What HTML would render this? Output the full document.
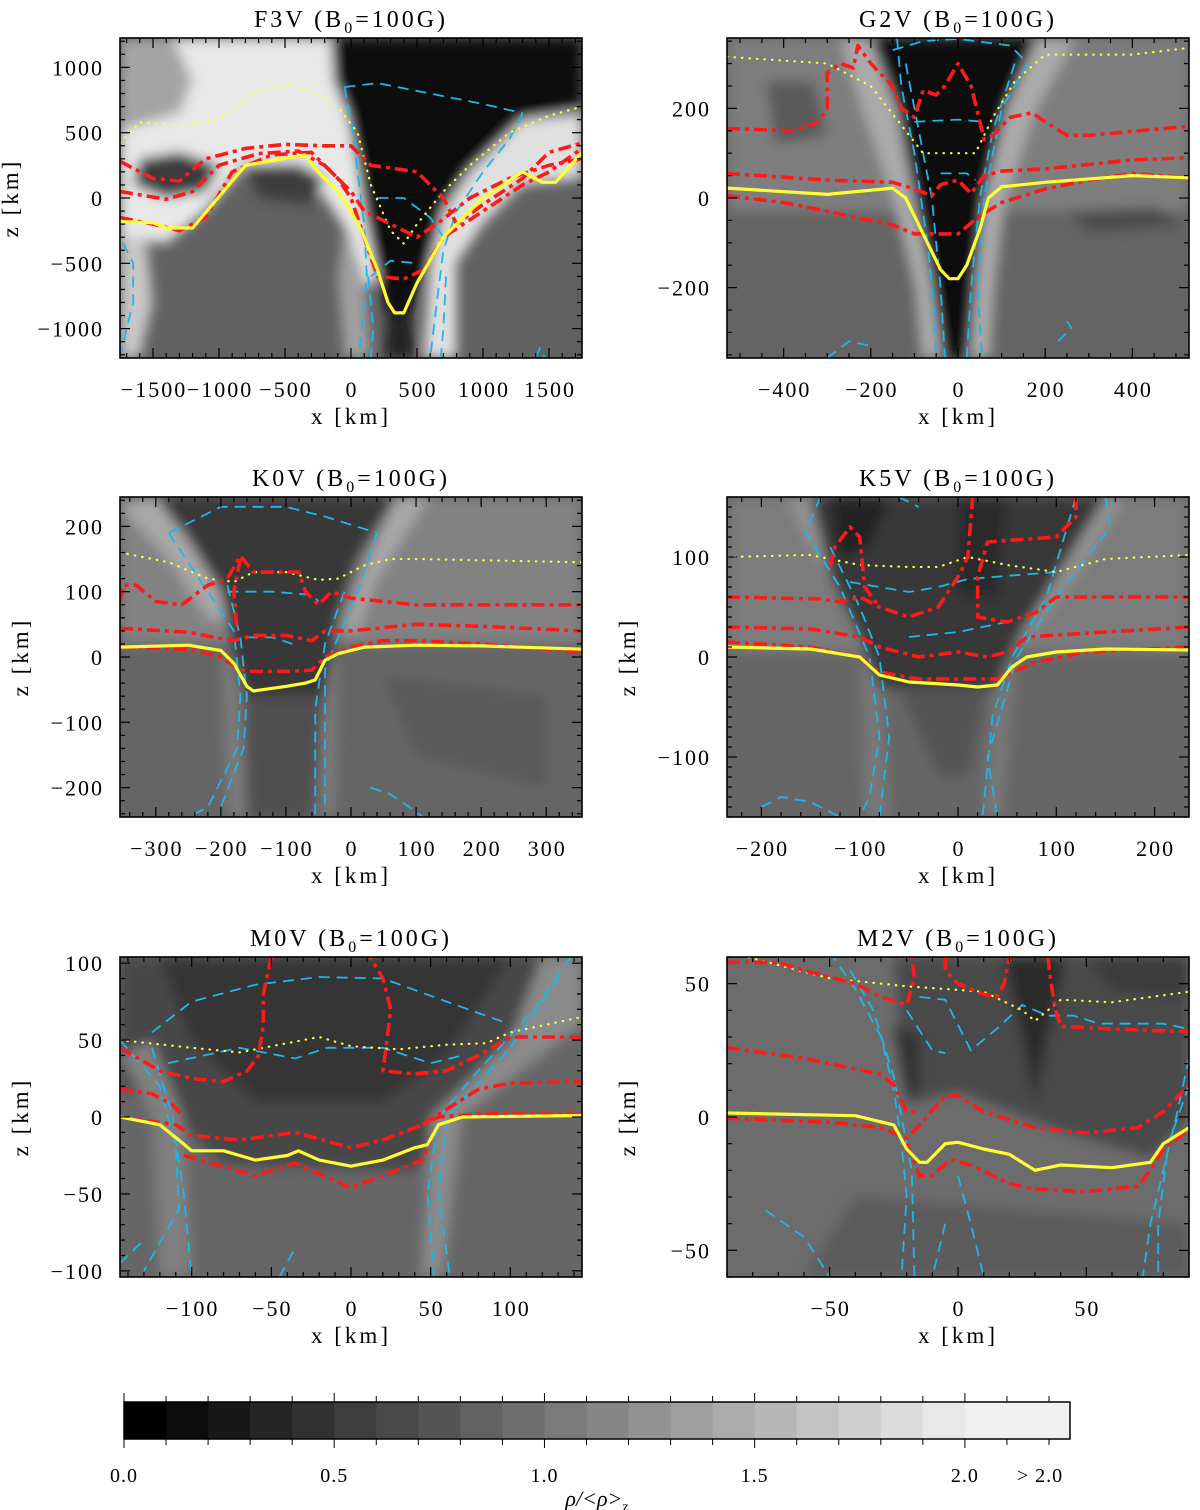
<!DOCTYPE html>
<html><head><meta charset="utf-8">
<style>
html,body{margin:0;padding:0;background:#fff;}
body{width:1200px;height:1510px;overflow:hidden;}
svg{display:block;font-family:"Liberation Serif",serif;}
</style></head>
<body>
<svg id="fig" width="1200" height="1510" viewBox="0 0 1200 1510" xmlns="http://www.w3.org/2000/svg">
<defs>
<filter id="soft" x="-20%" y="-20%" width="140%" height="140%"><feGaussianBlur stdDeviation="6"/></filter>
</defs>
</svg>
<script>
// ---------------- DATA (x [km], z [km]) ----------------
// F3V
const f3vTau=[[-1750,-180],[-1500,-190],[-1400,-230],[-1200,-230],[-1050,-50],[-800,250],[-350,330],[-250,200],[-100,50],[0,-100],[80,-250],[200,-550],[280,-800],[330,-880],[400,-880],[500,-650],[700,-300],[1000,0],[1300,200],[1450,120],[1550,120],[1750,350]];
const f3vRed1=[[-1750,280],[-1500,150],[-1300,130],[-1100,300],[-800,380],[-500,410],[-200,400],[0,400],[150,250],[300,230],[500,200],[700,0],[800,-200],[1000,-50],[1300,150],[1500,350],[1750,420]];
const f3vRed2=[[-1750,-150],[-1500,-200],[-1300,-250],[-1100,-150],[-900,200],[-600,330],[-300,350],[-100,150],[0,0],[100,-300],[200,-600],[400,-620],[550,-550],[700,-300],[1000,-100],[1300,100],[1500,200],[1750,380]];
const f3vRed3=[[-1750,50],[-1400,-10],[-1200,50],[-1000,250],[-700,340],[-400,360],[-200,250],[0,50],[100,-100],[300,-200],[500,-300],[650,-200],[900,0],[1200,150],[1500,250],[1750,300]];
const f3vDot=[[-1750,420],[-1600,580],[-1300,560],[-1000,600],[-700,820],[-500,880],[-300,820],[-100,700],[50,500],[150,100],[300,-250],[400,-350],[500,-200],[700,50],[900,250],[1200,500],[1500,630],[1750,700]];
const f3vCyan=[
 [[-1750,-1225],[-1700,-1000],[-1650,-800],[-1650,-500],[-1750,-300]],
 [[-50,850],[200,880],[600,800],[1000,720],[1300,650]],
 [[1300,650],[1200,450],[1000,200],[800,-100],[700,-400],[650,-800],[600,-1225]],
 [[-50,850],[0,600],[50,200],[100,-200],[120,-600],[80,-1000],[60,-1225]],
 [[200,0],[400,0],[600,-150],[700,-300]],
 [[150,-600],[300,-480],[500,-500]],
 [[130,-600],[170,-1000],[150,-1225]],
 [[720,-600],[700,-1000],[680,-1225]],
 [[1400,-1225],[1430,-1150],[1470,-1225]]];
// G2V
const g2vTau=[[-530,22],[-300,8],[-150,22],[-120,0],[-80,-80],[-40,-160],[-20,-180],[0,-180],[20,-150],[50,-70],[70,0],[100,25],[200,35],[400,50],[530,45]];
const g2vRed1=[[-530,5],[-400,-10],[-250,-40],[-150,-60],[-100,-80],[-50,-80],[0,-80],[50,-40],[100,-10],[200,20],[300,40],[400,55],[530,45]];
const g2vRed2=[[-530,55],[-300,40],[-150,35],[-100,20],[-60,5],[-40,30],[0,40],[30,10],[60,50],[100,60],[200,65],[400,85],[530,90]];
const g2vRed3=[[-530,155],[-380,150],[-320,170],[-300,200],[-300,280],[-270,300],[-240,290],[-230,340],[-200,300],[-150,250],[-130,200],[-100,180],[-80,240],[-50,230],[-30,250],[0,300],[30,250],[60,130],[80,140],[120,180],[170,190],[200,170],[250,140],[300,140],[530,160]];
const g2vDot=[[-530,315],[-300,300],[-200,250],[-120,150],[-80,100],[-40,100],[40,100],[80,180],[130,260],[200,320],[400,320],[530,335]];
const g2vCyan=[
 [[-140,357],[-130,250],[-100,100],[-70,-100],[-55,-250],[-50,-357]],
 [[-120,300],[-90,150],[-60,0],[-40,-200],[-30,-357]],
 [[160,300],[100,200],[60,0],[45,-200],[55,-357]],
 [[130,300],[80,150],[50,0],[30,-200],[20,-357]],
 [[-150,330],[-80,350],[0,355],[120,340],[160,300]],
 [[-100,170],[0,175],[60,170]],
 [[-40,55],[20,55],[40,40]],
 [[-300,-357],[-250,-320],[-200,-330]],
 [[230,-320],[260,-290],[250,-275]]];
// K0V
const k0vTau=[[-355,15],[-250,18],[-200,10],[-180,-10],[-160,-45],[-150,-52],[-100,-45],[-70,-40],[-55,-35],[-40,-5],[-20,5],[20,15],[100,18],[200,17],[355,12]];
const k0vRed1=[[-355,15],[-250,12],[-200,0],[-170,-20],[-150,-22],[-100,-22],[-60,-20],[-40,0],[0,15],[50,25],[100,25],[200,20],[355,8]];
const k0vRed2=[[-355,44],[-250,38],[-210,30],[-180,25],[-150,33],[-100,33],[-60,25],[-40,40],[0,40],[100,50],[200,47],[355,40]];
const k0vRed3=[[-355,85],[-350,110],[-330,110],[-300,85],[-260,80],[-220,110],[-190,120],[-170,155],[-150,130],[-80,130],[-70,100],[-50,80],[-30,100],[0,90],[100,80],[355,80]];
const k0vRed4=[[-170,150],[-180,100],[-175,40]];
const k0vDot=[[-355,160],[-280,145],[-220,120],[-180,115],[-150,130],[-100,130],[-50,118],[-20,120],[20,140],[60,150],[100,150],[355,145]];
const k0vCyan=[
 [[-280,190],[-200,230],[-100,230],[-40,215],[40,190]],
 [[-280,190],[-220,100],[-180,40],[-170,-60],[-175,-140],[-220,-230],[-250,-245]],
 [[-190,110],[-170,30],[-160,-60],[-165,-140],[-200,-230]],
 [[40,190],[10,100],[-20,30],[-40,-20],[-40,-120],[-40,-245]],
 [[-10,100],[-40,20],[-55,-80],[-55,-245]],
 [[-190,100],[-120,100],[-60,95],[-50,85]],
 [[-160,30],[-120,30],[-90,20]],
 [[30,-200],[60,-210],[90,-230],[110,-245]]];
// K5V
const k5vTau=[[-235,10],[-150,8],[-100,0],[-80,-18],[-50,-25],[0,-28],[20,-30],[40,-28],[55,-10],[70,0],[100,5],[150,8],[235,7]];
const k5vRed1=[[-235,15],[-150,10],[-100,0],[-80,-15],[-40,-22],[40,-22],[55,-15],[80,-5],[130,5],[235,10]];
const k5vRed2=[[-235,30],[-150,28],[-100,20],[-80,10],[-40,0],[0,5],[30,0],[50,5],[70,20],[150,25],[235,30]];
const k5vRed3=[[-235,60],[-140,58],[-120,55],[-100,60],[-80,50],[-50,40],[-20,50],[0,80],[10,100],[15,160]];
const k5vRed4=[[120,160],[120,140],[100,120],[30,115],[20,80],[20,40],[50,35],[80,45],[100,60],[110,60],[150,60],[235,60]];
const k5vRed5=[[-130,90],[-125,110],[-110,130],[-100,120],[-95,70],[-80,50]];
const k5vDot=[[-235,100],[-150,102],[-100,92],[-50,90],[-20,90],[10,100],[50,92],[100,85],[150,98],[235,102]];
const k5vCyan=[
 [[-140,160],[-155,125],[-120,70],[-90,0],[-80,-80],[-90,-140],[-100,-160]],
 [[-130,110],[-100,50],[-80,0],[-70,-80],[-80,-160]],
 [[150,160],[155,130],[100,60],[60,0],[45,-50],[30,-100],[40,-160]],
 [[120,160],[90,60],[55,0],[35,-60],[25,-160]],
 [[-110,75],[-50,65],[-20,70],[10,78],[100,85]],
 [[-50,20],[0,25],[50,35]],
 [[-60,160],[-40,150]],
 [[-200,-150],[-180,-140],[-150,-145],[-120,-160]]];
// M0V
const m0vTau=[[-145,0],[-120,-5],[-108,-15],[-100,-22],[-80,-22],[-60,-28],[-40,-25],[-33,-22],[-20,-28],[0,-32],[20,-28],[40,-20],[48,-18],[55,-5],[70,0],[145,1]];
const m0vRed1=[[-145,0],[-110,-5],[-100,-12],[-70,-15],[-35,-10],[0,-20],[20,-15],[45,-5],[55,0],[80,2],[145,2]];
const m0vRed2=[[-105,-25],[-60,-38],[-35,-30],[0,-46],[20,-38],[45,-28],[50,-15]];
const m0vRed3=[[-145,18],[-125,15],[-112,8],[-105,0]];
const m0vRed4=[[45,-5],[60,5],[80,18],[100,22],[145,23]];
const m0vRed5=[[-145,45],[-120,30],[-100,25],[-80,23],[-65,30],[-58,40],[-55,60],[-55,80],[-50,104]];
const m0vRed6=[[145,52],[100,52],[80,40],[60,30],[40,28],[20,30],[22,45],[25,70],[20,90],[12,104]];
const m0vDot=[[-145,50],[-100,45],[-70,42],[-40,48],[-20,52],[0,46],[30,44],[60,47],[85,48],[100,55],[145,65]];
const m0vCyan=[
 [[-125,55],[-100,75],[-60,86],[-20,91],[20,90],[60,75],[95,62]],
 [[-145,50],[-120,20],[-110,-20],[-108,-60],[-130,-100]],
 [[-125,45],[-112,0],[-105,-50],[-100,-104]],
 [[138,104],[115,70],[80,30],[55,0],[48,-50],[52,-104]],
 [[130,90],[100,45],[60,0],[55,-50],[62,-104]],
 [[-115,35],[-70,45],[-35,38],[-15,45],[20,45],[50,35],[70,40]],
 [[-145,-95],[-130,-80]],
 [[-45,-104],[-35,-85]]];
// M2V
const m2vTau=[[-90,1.5],[-40,0.5],[-25,-3],[-20,-12],[-15,-17],[-12,-17],[-5,-10],[0,-9.5],[10,-12],[20,-14],[30,-20],[35,-19],[40,-18],[60,-19],[75,-17],[80,-10],[90,-4]];
const m2vRed1=[[-90,-0.5],[-50,-2],[-30,-4],[-20,-8],[-15,-3],[-5,8],[0,8],[10,2],[30,-4],[50,-6],[70,-4],[80,2],[90,12]];
const m2vRed2=[[-20,-10],[-15,-22],[-10,-22],[-3,-16],[5,-18],[20,-25],[30,-27],[50,-28],[70,-26],[75,-20],[80,-12],[90,-5]];
const m2vRed3=[[-90,26],[-60,22],[-40,18],[-30,16],[-25,12],[-20,2],[-15,2]];
const m2vRed4=[[-90,58],[-70,58],[-60,55],[-40,50],[-30,45],[-20,42],[-17,52],[-18,60]];
const m2vRed5=[[-5,60],[-5,55],[0,50],[10,46],[15,45],[18,50],[20,60]];
const m2vRed6=[[35,60],[36,52],[38,40],[40,34],[60,33],[90,32]];
const m2vDot=[[-90,62],[-50,52],[-20,49],[10,47],[25,40],[30,36],[40,44],[60,43],[90,47]];
const m2vCyan=[
 [[-50,62],[-40,48],[-30,30],[-25,10],[-22,-10],[-20,-30],[-22,-60]],
 [[-42,55],[-33,40],[-25,15],[-18,-20],[-17,-60]],
 [[90,22],[85,0],[80,-20],[75,-40],[72,-60]],
 [[90,12],[82,-10],[78,-40],[78,-60]],
 [[-15,45],[-5,44],[5,25],[15,33],[25,42],[35,38],[45,38],[55,35],[80,35],[90,33]],
 [[-20,40],[-10,25],[-5,24]],
 [[-75,-35],[-60,-45],[-50,-60]],
 [[0,-22],[5,-40],[10,-60]],
 [[-5,-40],[-10,-60]]];

// Colorbar data
const cbLevels=[0.0,0.1,0.2,0.3,0.4,0.5,0.6,0.7,0.8,0.9,1.0,1.1,1.2,1.3,1.4,1.5,1.6,1.7,1.8,1.9,2.0];
const cbLabels=["0.0","0.5","1.0","1.5","2.0"];
const cbLabelValues=[0.0,0.5,1.0,1.5,2.0];

// ---------------- RENDER ----------------
const NS="http://www.w3.org/2000/svg";
const svg=document.getElementById('fig');
function mk(tag,attrs,parent){const e=document.createElementNS(NS,tag);for(const k in attrs)e.setAttribute(k,attrs[k]);(parent||svg).appendChild(e);return e;}

const panels=[
 {id:'f3v',title:'F3V',L:120,T:38,xr:[-1750,1750],zr:[-1225,1225],xMaj:500,xMin:100,zMaj:500,zMin:100,ylab:10,
  bg:'#616161',shapes:[
   ['#e8e8e8',[[-1750,1225],[-150,1225],[-100,900],[0,650],[60,300],[100,0],[150,-300],[250,-600],[80,-700],[0,-300],[-200,0],[-400,250],[-800,250],[-1100,-100],[-1400,-350],[-1750,-300]]],
   ['#a4a4a4',[[-1750,1225],[-1350,1225],[-1200,900],[-1300,650],[-1750,520]]],
   ['#3a3a3a',[[-1600,300],[-1300,350],[-1000,250],[-1100,50],[-1400,0],[-1650,100]]],
   ['#3e3e3e',[[-800,250],[-400,260],[-200,150],[-300,-50],[-700,0]]],
   ['#c8c8c8',[[-1750,-300],[-1550,-300],[-1500,-800],[-1600,-1225],[-1750,-1225]]],
   ['#a0a0a0',[[-50,-200],[100,-600],[150,-1225],[-50,-1225],[-100,-600]]],
   ['#e0e0e0',[[550,-1225],[800,-1225],[800,-500],[1000,-200],[1300,100],[1750,150],[1750,650],[1300,600],[900,200],[700,-100],[600,-500]]],
   ['#070707',[[-150,1225],[1750,1225],[1750,720],[1300,620],[900,250],[700,-50],[560,-600],[450,-900],[280,-900],[180,-500],[100,-100],[40,300],[-30,650],[-130,900]]],
   ['#222222',[[280,-900],[450,-900],[500,-1225],[250,-1225]]]],
  tau:f3vTau,reds:[f3vRed1,f3vRed2,f3vRed3],dot:f3vDot,cyan:f3vCyan},
 {id:'g2v',title:'G2V',L:727,T:38,xr:[-530,530],zr:[-357,357],xMaj:200,xMin:50,zMaj:200,zMin:50,ylab:null,
  bg:'#646464',shapes:[
   ['#7e7e7e',[[-530,357],[530,357],[530,-30],[-530,-30]]],
   ['#5a5a5a',[[-440,260],[-330,260],[-300,140],[-420,120]]],
   ['#4c4c4c',[[250,-30],[450,-20],[520,-60],[300,-75]]],
   ['#aaaaaa',[[-270,357],[270,357],[180,200],[110,0],[85,-200],[75,-357],[-85,-357],[-100,-200],[-150,0],[-220,200]]],
   ['#0a0a0a',[[-200,357],[180,357],[110,200],[60,0],[40,-180],[25,-357],[-35,-357],[-60,-180],[-100,0],[-140,200]]]],
  tau:g2vTau,reds:[g2vRed1,g2vRed2,g2vRed3],dot:g2vDot,cyan:g2vCyan},
 {id:'k0v',title:'K0V',L:120,T:497,xr:[-355,355],zr:[-245,245],xMaj:100,xMin:20,zMaj:100,zMin:20,ylab:20,
  bg:'#656565',shapes:[
   ['#828282',[[-355,245],[355,245],[355,20],[-355,20]]],
   ['#5a5a5a',[[50,-30],[300,-60],[300,-200],[100,-150]]],
   ['#a8a8a8',[[-355,230],[-300,245],[-250,180],[-200,100],[-190,50],[-220,60],[-280,150]]],
   ['#a8a8a8',[[70,245],[120,245],[40,120],[10,40],[-10,40],[20,130]]],
   ['#7c7c7c',[[-200,0],[-175,0],[-160,-245],[-190,-245]]],
   ['#7c7c7c',[[-45,0],[-20,0],[-25,-245],[-45,-245]]],
   ['#383838',[[-300,245],[70,245],[10,150],[-20,60],[-30,0],[-40,-60],[-160,-60],[-180,0],[-200,100],[-250,180]]],
   ['#505050',[[-160,-60],[-40,-60],[-60,-245],[-160,-245]]]],
  tau:k0vTau,reds:[k0vRed1,k0vRed2,k0vRed3,k0vRed4],dot:k0vDot,cyan:k0vCyan},
 {id:'k5v',title:'K5V',L:727,T:497,xr:[-235,235],zr:[-160,160],xMaj:100,xMin:20,zMaj:100,zMin:10,ylab:627,
  bg:'#666666',shapes:[
   ['#7c7c7c',[[-235,160],[235,160],[235,5],[-235,5]]],
   ['#929292',[[-175,160],[-140,160],[-120,100],[-100,50],[-120,60],[-150,110]]],
   ['#929292',[[130,160],[170,160],[120,80],[70,20],[55,30],[100,80]]],
   ['#787878',[[-100,0],[-80,0],[-70,-160],[-95,-160]]],
   ['#787878',[[40,0],[60,0],[45,-160],[25,-160]]],
   ['#383838',[[-150,160],[150,160],[100,80],[55,10],[40,-30],[-80,-30],[-100,20],[-130,80]]],
   ['#222222',[[-130,160],[-70,160],[-90,110],[-120,100]]],
   ['#2c2c2c',[[0,160],[50,160],[40,60],[0,60]]],
   ['#555555',[[-60,-30],[30,-30],[10,-120],[-20,-120]]]],
  tau:k5vTau,reds:[k5vRed1,k5vRed2,k5vRed3,k5vRed4,k5vRed5],dot:k5vDot,cyan:k5vCyan},
 {id:'m0v',title:'M0V',L:120,T:957,xr:[-145,145],zr:[-104,104],xMaj:50,xMin:10,zMaj:50,zMin:10,ylab:20,
  bg:'#666666',shapes:[
   ['#464646',[[-145,104],[145,104],[145,80],[100,40],[60,0],[40,-35],[-80,-30],[-110,0],[-145,20]]],
   ['#363636',[[-120,104],[100,104],[60,40],[20,10],[-60,10],[-100,50]]],
   ['#8a8a8a',[[120,104],[145,104],[145,60],[70,0],[58,-104],[44,-104],[50,0],[100,50]]],
   ['#808080',[[-145,40],[-125,50],[-105,0],[-100,-104],[-120,-104],[-125,0]]]],
  tau:m0vTau,reds:[m0vRed1,m0vRed2,m0vRed3,m0vRed4,m0vRed5,m0vRed6],dot:m0vDot,cyan:m0vCyan},
 {id:'m2v',title:'M2V',L:727,T:957,xr:[-90,90],zr:[-60,60],xMaj:50,xMin:10,zMaj:50,zMin:10,ylab:627,
  bg:'#6c6c6c',shapes:[
   ['#4a4a4a',[[-25,60],[90,60],[90,0],[75,-15],[40,-5],[0,10],[-20,5]]],
   ['#2a2a2a',[[18,60],[42,60],[35,30],[30,5],[25,30]]],
   ['#333333',[[-25,35],[-15,30],[-15,10],[-20,8]]],
   ['#3a3a3a',[[50,60],[90,60],[90,45],[60,48]]],
   ['#5c5c5c',[[-60,-60],[90,-60],[90,-40],[-40,-30]]]],
  tau:m2vTau,reds:[m2vRed1,m2vRed2,m2vRed3,m2vRed4,m2vRed5,m2vRed6],dot:m2vDot,cyan:m2vCyan}
];
const W=462,H=320;

function ticksArr(lo,hi,step){const a=[];const s=Math.ceil(lo/step-1e-9);for(let i=s;i*step<=hi+1e-9;i++)a.push(i*step);return a;}
function fmt(v){return v<0?'\u2212'+Math.abs(v):String(v);}

panels.forEach(p=>{
  const sx=x=>p.L+(x-p.xr[0])/(p.xr[1]-p.xr[0])*W;
  const sz=z=>p.T+(p.zr[1]-z)/(p.zr[1]-p.zr[0])*H;
  const ptsStr=arr=>arr.map(d=>sx(d[0]).toFixed(1)+','+sz(d[1]).toFixed(1)).join(' ');
  const g=mk('g',{});
  
  
  const cp=mk('clipPath',{id:'clip-'+p.id},g);
  mk('rect',{x:p.L,y:p.T,width:W,height:H},cp);
  const plot=mk('g',{'clip-path':'url(#clip-'+p.id+')'},g);
  
  
  const bgR=mk('rect',{x:p.L,y:p.T,width:W,height:H,fill:p.bg},plot);
  
  
  const sg=mk('g',{filter:'url(#soft)'},plot);
  p.shapes.forEach((s,i)=>{
    const pg=mk('polygon',{points:ptsStr(s[1]),fill:s[0]},sg);
    
    
  });
  p.cyan.forEach(c=>{
    const l=mk('polyline',{points:ptsStr(c),fill:'none',stroke:'#1fb6e8','stroke-width':1.8,'stroke-dasharray':'11,7'},plot);
    
    
  });
  const dl=mk('polyline',{points:ptsStr(p.dot),fill:'none',stroke:'#ffff40','stroke-width':2.2,'stroke-dasharray':'0.5,7','stroke-linecap':'round'},plot);
  
  
  p.reds.forEach(r=>{
    const l=mk('polyline',{points:ptsStr(r),fill:'none',stroke:'#ff1a1a','stroke-width':3.6,'stroke-dasharray':'13,5,4,5','stroke-linejoin':'round'},plot);
    
    
  });
  const tl=mk('polyline',{points:ptsStr(p.tau),fill:'none',stroke:'#ffff33','stroke-width':3.2,'stroke-linejoin':'round'},plot);
  
  
  // frame
  const fr=mk('rect',{x:p.L,y:p.T,width:W,height:H,fill:'none',stroke:'#000','stroke-width':1.6},g);
  
  
  // ticks
  const tg=mk('g',{stroke:'#000','stroke-width':1.2},g);
  
  
  ticksArr(p.xr[0],p.xr[1],p.xMin).forEach(v=>{
    const X=sx(v);const major=Math.abs(v/p.xMaj-Math.round(v/p.xMaj))<1e-6;const len=major?10:5;
    mk('line',{x1:X,y1:p.T+H,x2:X,y2:p.T+H-len},tg);mk('line',{x1:X,y1:p.T,x2:X,y2:p.T+len},tg);
  });
  ticksArr(p.zr[0],p.zr[1],p.zMin).forEach(v=>{
    const Y=sz(v);const major=Math.abs(v/p.zMaj-Math.round(v/p.zMaj))<1e-6;const len=major?10:5;
    mk('line',{x1:p.L,y1:Y,x2:p.L+len,y2:Y},tg);mk('line',{x1:p.L+W,y1:Y,x2:p.L+W-len,y2:Y},tg);
  });
  ticksArr(p.xr[0],p.xr[1],p.xMaj).forEach(v=>{
    const t=mk('text',{x:sx(v)+1,y:p.T+H+39,'text-anchor':'middle','font-size':22,'letter-spacing':2},g);t.textContent=fmt(v);
    
    
  });
  ticksArr(p.zr[0],p.zr[1],p.zMaj).forEach(v=>{
    const t=mk('text',{x:p.L-16,y:sz(v)+8,'text-anchor':'end','font-size':22,'letter-spacing':2},g);t.textContent=fmt(v);
    
    
  });
  const xt=mk('text',{x:p.L+W/2,y:p.T+H+66,'text-anchor':'middle','font-size':23,'letter-spacing':3},g);xt.textContent='x [km]';
  
  
  if(p.ylab!==null){
    const yy=p.T+H/2;
    const yt=mk('text',{x:p.ylab,y:yy,'text-anchor':'middle','font-size':23,'letter-spacing':3,transform:'rotate(-90 '+p.ylab+' '+yy+') translate(0 8)'},g);yt.textContent='z [km]';
    
    
  }
  const tt=mk('text',{x:p.L+W/2,y:p.T-11,'text-anchor':'middle','font-size':24,'letter-spacing':3},g);
  
  
  tt.setAttribute('xml:space','preserve');
  tt.innerHTML=p.title+'  (B<tspan font-size="16" dy="6">0</tspan><tspan dy="-6">=100G)</tspan>';
});

// colorbar
(function(){
  const L=124,R=1070,T=1402,B=1439,vmax=2.25;
  const cx=v=>L+v/vmax*(R-L);
  const g=mk('g',{});
  
  
  cbLevels.forEach((v,i)=>{
    const v2=i<cbLevels.length-1?cbLevels[i+1]:vmax;
    const lvl=Math.round(Math.min(240,i*12.2));
    const r=mk('rect',{x:cx(v),y:T,width:cx(v2)-cx(v)+0.5,height:B-T,fill:'rgb('+lvl+','+lvl+','+lvl+')'},g);
    
    
  });
  const f=mk('rect',{x:L,y:T,width:R-L,height:B-T,fill:'none',stroke:'#000','stroke-width':1.5},g);
  
  
  const tg=mk('g',{stroke:'#000','stroke-width':1},g);
  for(let i=0;i<=22;i++){const v=i*0.1;const X=cx(v);const major=(i%5===0);
    mk('line',{x1:X,y1:T-(major?9:6),x2:X,y2:T},tg);mk('line',{x1:X,y1:B,x2:X,y2:B+(major?9:6)},tg);}
  cbLabels.forEach((s,i)=>{
    const t=mk('text',{x:cx(cbLabelValues[i]),y:1482,'text-anchor':'middle','font-size':20,'letter-spacing':1},g);t.textContent=s;
    
    
  });
  const gt=mk('text',{x:1040,y:1482,'text-anchor':'middle','font-size':20,'letter-spacing':1},g);gt.textContent='> 2.0';
  
  
  const ct=mk('text',{x:597,y:1506,'text-anchor':'middle','font-size':22,'font-style':'italic'},g);
  ct.innerHTML='\u03C1/&lt;\u03C1&gt;<tspan font-size="14" dy="5" font-style="normal">z</tspan>';
  
  
})();
</script>
</body></html>
